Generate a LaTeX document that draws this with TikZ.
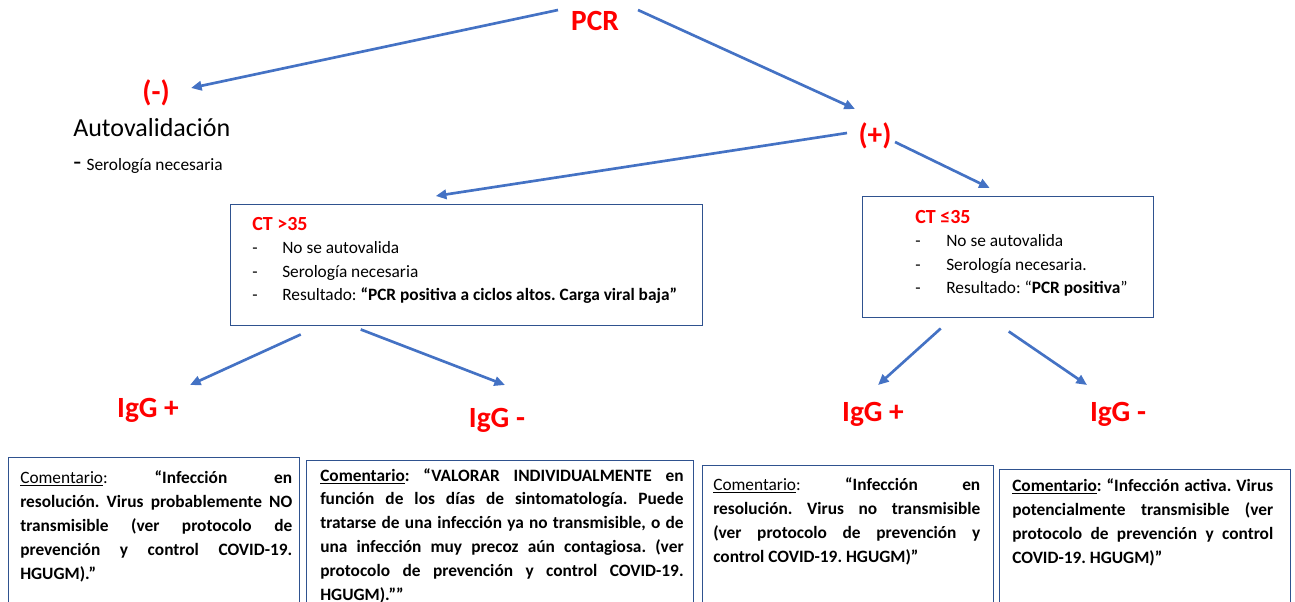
\documentclass[tikz,border=0pt]{standalone}
\usepackage{fontspec}
\setmainfont{Carlito}
\usetikzlibrary{arrows.meta}
\frenchspacing

\definecolor{azulflecha}{RGB}{68,114,196}
\definecolor{azulcaja}{RGB}{47,82,143}
\definecolor{rojopcr}{RGB}{255,0,0}

\newcommand{\guion}[1][22.5pt]{\makebox[#1][l]{-}}

\begin{document}
\begin{tikzpicture}[x=0.75pt,y=-0.75pt,
	flecha/.style={draw=azulflecha, line width=2pt, -{Triangle[length=8pt,width=7pt]}},
	grande/.style={text=rojopcr, inner sep=0pt, anchor=base, font=\fontsize{22}{26}\selectfont\bfseries},
	caja/.style={draw=azulcaja, line width=1.1pt, inner sep=0pt, anchor=north west},
	lista/.style={anchor=north west, inner sep=0pt, align=left, font=\fontsize{13}{17.5}\selectfont},
	comentario/.style={anchor=north west, inner sep=0pt, align=justify, font=\fontsize{13}{17.9}\selectfont\bfseries}
	]
	\useasboundingbox (0,0) rectangle (1295,602);

	% Text Node
	\node[grande] (pcr) at (595,31) {PCR};
	% Text Node
	\node[grande] (neg) at (156,102) {(-)};
	% Text Node
	\node[anchor=base west, inner sep=0pt, font=\fontsize{19.5}{23}\selectfont] (autoval) at (73,137) {Autovalidación};
	% Text Node
	\node[anchor=base west, inner sep=0pt, font=\fontsize{13}{17.5}\selectfont] (serol) at (73,171) {{\fontsize{19.5}{23}\selectfont -}\hspace{4pt}Serología necesaria};
	% Text Node
	\node[grande] (pos) at (875,145) {(+)};

	%Shape: Rectangle
	\node[caja, minimum width=354pt, minimum height=90.75pt] (ctalto) at (230,204) {};
	\node[lista] (txtalto) at ([shift={(22,13)}]ctalto.north west) {%
		{\fontsize{15}{17.5}\selectfont\bfseries\color{rojopcr}CT >35}\\
		\guion No se autovalida\\
		\guion Serología necesaria\\
		\guion Resultado: \textbf{“PCR positiva a ciclos altos. Carga viral baja”}};
	%Shape: Rectangle
	\node[caja, minimum width=218.25pt, minimum height=90.75pt] (ctbajo) at (862,196) {};
	\node[lista] (txtbajo) at ([shift={(53,14)}]ctbajo.north west) {%
		{\fontsize{15}{17.5}\selectfont\bfseries\color{rojopcr}CT ≤35}\\
		\guion[23.25pt]No se autovalida\\
		\guion[23.25pt]Serología necesaria.\\
		\guion[23.25pt]Resultado: “\textbf{PCR positiva}”};

	% Text Node
	\node[grande] (igguno) at (148,417) {IgG +};
	% Text Node
	\node[grande] (iggdos) at (497,427) {IgG -};
	% Text Node
	\node[grande] (iggtres) at (873,421) {IgG +};
	% Text Node
	\node[grande] (iggcuatro) at (1118,421) {IgG -};

	%Shape: Rectangle
	\node[caja, minimum width=218.25pt, minimum height=122pt] (coma) at (8,457) {};
	\node[comentario, text width=204pt] (txta) at ([shift={(12,13.5)}]coma.north west) {%
		\textmd{\underline{Comentario}:} “Infección en\linebreak
		resolución. Virus probablemente NO\linebreak
		transmisible (ver protocolo de\linebreak
		prevención y control COVID-19.\linebreak
		HGUGM).”};
	%Shape: Rectangle
	\node[caja, minimum width=290.25pt, minimum height=122pt] (comb) at (306,460) {};
	\node[comentario, text width=272.5pt] (txtb) at ([shift={(14,8)}]comb.north west) {%
		\underline{Comentario}: “VALORAR INDIVIDUALMENTE en\linebreak
		función de los días de sintomatología. Puede\linebreak
		tratarse de una infección ya no transmisible, o de\linebreak
		una infección muy precoz aún contagiosa. (ver\linebreak
		protocolo de prevención y control COVID-19.\linebreak
		HGUGM).””};
	%Shape: Rectangle
	\node[caja, minimum width=218.25pt, minimum height=122pt] (comc) at (702,465) {};
	\node[comentario, text width=200.25pt] (txtc) at ([shift={(11,12.5)}]comc.north west) {%
		\textmd{\underline{Comentario}:} “Infección en\linebreak
		resolución. Virus no transmisible\linebreak
		(ver protocolo de prevención y\linebreak
		control COVID-19. HGUGM)”};
	%Shape: Rectangle
	\node[caja, minimum width=218.25pt, minimum height=122pt] (comd) at (999,469) {};
	\node[comentario, text width=195.75pt] (txtd) at ([shift={(13,9.5)}]comd.north west) {%
		\underline{Comentario}: “Infección activa. Virus\linebreak
		potencialmente transmisible (ver\linebreak
		protocolo de prevención y control\linebreak
		COVID-19. HGUGM)”};

	%Straight Lines
	\draw[flecha] ([shift={(-37,-21)}]pcr.base) -- ([shift={(35,-14)}]neg.base);
	\draw[flecha] ([shift={(43,-21)}]pcr.base) -- ([shift={(-20,-36)}]pos.base);
	\draw[flecha] ([shift={(-28,-12)}]pos.base) -- ([shift={(-31,-8)}]ctalto.north);
	\draw[flecha] ([shift={(20,-3)}]pos.base) -- ([shift={(-18.5,-8)}]ctbajo.north);
	\draw[flecha] ([shift={(-166,8)}]ctalto.south) -- ([shift={(42,-32)}]igguno.base);
	\draw[flecha] ([shift={(-106,3)}]ctalto.south) -- ([shift={(8,-42)}]iggdos.base);
	\draw[flecha] ([shift={(-67.5,10)}]ctbajo.south) -- ([shift={(5,-36)}]iggtres.base);
	\draw[flecha] ([shift={(0.5,13)}]ctbajo.south) -- ([shift={(-31,-36)}]iggcuatro.base);

\end{tikzpicture}
\end{document}
